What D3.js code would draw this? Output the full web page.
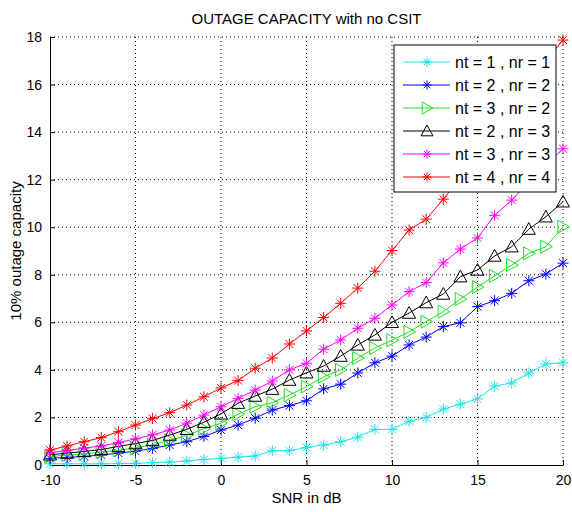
<!DOCTYPE html>
<html>
<head>
<meta charset="utf-8">
<script src="https://cdn.jsdelivr.net/npm/d3@7"></script>
<style>
  html, body { margin: 0; padding: 0; background: #ffffff; }
  svg text { font-family: "Liberation Sans Narrow", "Arial Narrow", "Liberation Sans", Arial, sans-serif; fill: #000; }
</style>
</head>
<body>
<div id="chart"></div>
<script>
'use strict';

// ─── Data ───────────────────────────────────────────────────────────────────
const snrDb = d3.range(-10, 21); // -10 .. 20 dB, step 1

const cap11 = [0.05, 0.05, 0.05, 0.05, 0.06, 0.07, 0.10, 0.12, 0.17, 0.23, 0.28,
               0.33, 0.38, 0.60, 0.60, 0.74, 0.84, 0.98, 1.17, 1.50, 1.50,
               1.84, 2.00, 2.35, 2.56, 2.78, 3.32, 3.45, 3.87, 4.25, 4.30];
const cap22 = [0.28, 0.32, 0.36, 0.42, 0.50, 0.58, 0.70, 0.84, 0.98, 1.20, 1.47,
               1.68, 1.97, 2.31, 2.50, 2.70, 3.20, 3.40, 3.87, 4.30, 4.58,
               5.05, 5.38, 5.82, 5.98, 6.66, 6.91, 7.22, 7.75, 8.03, 8.49];
const cap32 = [0.35, 0.42, 0.47, 0.55, 0.62, 0.72, 0.85, 1.03, 1.25, 1.52, 1.76,
               2.14, 2.45, 2.62, 2.94, 3.30, 3.71, 4.00, 4.50, 4.92, 5.25,
               5.60, 6.03, 6.45, 6.98, 7.48, 7.95, 8.41, 8.90, 9.18, 10.02];
const cap23 = [0.43, 0.50, 0.57, 0.65, 0.78, 0.90, 1.03, 1.26, 1.50, 1.80, 2.15,
               2.60, 2.90, 3.19, 3.57, 3.88, 4.16, 4.58, 5.05, 5.47, 6.00,
               6.39, 6.83, 7.19, 7.92, 8.20, 8.79, 9.18, 9.92, 10.44, 11.07];
const cap33 = [0.52, 0.60, 0.71, 0.80, 0.94, 1.10, 1.27, 1.47, 1.76, 2.10, 2.45,
               2.80, 3.15, 3.53, 4.00, 4.28, 4.87, 5.26, 5.75, 6.17, 6.73,
               7.29, 7.67, 8.50, 9.08, 9.55, 10.50, 11.14, 11.90, 12.60, 13.30];
const cap44 = [0.63, 0.80, 0.98, 1.15, 1.40, 1.68, 1.95, 2.20, 2.52, 2.87, 3.24,
               3.55, 4.07, 4.50, 5.09, 5.64, 6.20, 6.80, 7.44, 8.15, 9.02,
               9.88, 10.34, 11.18, 12.10, 13.00, 14.00, 15.00, 16.00, 17.00, 17.87];

const seriesLabels = ['nt = 1 , nr = 1', 'nt = 2 , nr = 2', 'nt = 3 , nr = 2',
                      'nt = 2 , nr = 3', 'nt = 3 , nr = 3', 'nt = 4 , nr = 4'];
const seriesColors = ['#1ee3e3', '#0000ff', '#22dd22', '#000000', '#ff00ff', '#ff0000'];
const seriesMarkers = ['star', 'star', 'triRight', 'triUp', 'star', 'star'];
const seriesValues = [cap11, cap22, cap32, cap23, cap33, cap44];

const xTicks = [-10, -5, 0, 5, 10, 15, 20];
const yTicks = [0, 2, 4, 6, 8, 10, 12, 14, 16, 18];

// ─── Layout ─────────────────────────────────────────────────────────────────
const W = 572, H = 512;
const M = { left: 50, right: 9, top: 37, bottom: 47 };
const plotW = W - M.left - M.right;
const plotH = H - M.top - M.bottom;

const svg = d3.select('#chart')
    .append('svg')
    .attr('width', W)
    .attr('height', H);

const g = svg.append('g').attr('transform', 'translate(' + M.left + ',' + M.top + ')');

const x = d3.scaleLinear().domain([-10, 20]).range([0, plotW]);
const y = d3.scaleLinear().domain([0, 18]).range([plotH, 0]);

// ─── Grid (dotted, MATLAB style) ────────────────────────────────────────────
g.append('g')
    .selectAll('line')
    .data(xTicks.slice(1))
    .enter()
    .append('line')
    .attr('x1', function (d) { return x(d); })
    .attr('x2', function (d) { return x(d); })
    .attr('y1', 0)
    .attr('y2', plotH)
    .attr('stroke', '#000')
    .attr('stroke-width', 1)
    .attr('stroke-dasharray', '1,3');

g.append('g')
    .selectAll('line')
    .data(yTicks.slice(1))
    .enter()
    .append('line')
    .attr('x1', 0)
    .attr('x2', plotW)
    .attr('y1', function (d) { return y(d); })
    .attr('y2', function (d) { return y(d); })
    .attr('stroke', '#000')
    .attr('stroke-width', 1)
    .attr('stroke-dasharray', '1,3');

// ─── Axes ───────────────────────────────────────────────────────────────────
// plain hyphen for negatives, like the MATLAB original
const plainFmt = function (d) { return String(d); };

const xAxis = g.append('g')
    .attr('transform', 'translate(0,' + plotH + ')')
    .call(d3.axisBottom(x).tickValues(xTicks).tickFormat(plainFmt)
        .tickSizeInner(-5).tickSizeOuter(0).tickPadding(10));

const yAxis = g.append('g')
    .call(d3.axisLeft(y).tickValues(yTicks).tickFormat(plainFmt)
        .tickSizeInner(-5).tickSizeOuter(0).tickPadding(8));

[xAxis, yAxis].forEach(function (ax) {
    ax.select('.domain').attr('stroke', '#000').attr('stroke-width', 1);
    ax.selectAll('.tick line').attr('stroke', '#000');
    ax.selectAll('.tick text')
        .style('font-family', '"Liberation Sans Narrow", "Arial Narrow", "Liberation Sans", Arial, sans-serif')
        .style('font-size', '14px');
});

// ─── Markers ────────────────────────────────────────────────────────────────
function markerPath(kind, r) {
    if (kind === 'star') {
        const d = r * 0.72;
        return 'M' + (-r) + ',0H' + r + 'M0,' + (-r) + 'V' + r +
               'M' + (-d) + ',' + (-d) + 'L' + d + ',' + d +
               'M' + (-d) + ',' + d + 'L' + d + ',' + (-d);
    }
    if (kind === 'triRight') {
        return 'M' + (-r * 0.8) + ',' + (-r) + 'L' + r + ',0L' + (-r * 0.8) + ',' + r + 'Z';
    }
    // triUp
    return 'M0,' + (-r) + 'L' + r + ',' + (r * 0.8) + 'L' + (-r) + ',' + (r * 0.8) + 'Z';
}

// ─── Series ─────────────────────────────────────────────────────────────────
const line = d3.line()
    .x(function (d) { return x(d[0]); })
    .y(function (d) { return y(d[1]); });

seriesValues.forEach(function (vals, i) {
    const pts = snrDb.map(function (s, k) { return [s, vals[k]]; });
    const col = seriesColors[i];
    const sg = g.append('g').attr('class', 'series');

    sg.append('path')
        .datum(pts)
        .attr('d', line)
        .attr('fill', 'none')
        .attr('stroke', col)
        .attr('stroke-width', 1);

    const r = seriesMarkers[i] === 'star' ? 5.5 : 6.5;
    sg.selectAll('.mk')
        .data(pts)
        .enter()
        .append('path')
        .attr('class', 'mk')
        .attr('transform', function (d) { return 'translate(' + x(d[0]) + ',' + y(d[1]) + ')'; })
        .attr('d', markerPath(seriesMarkers[i], r))
        .attr('fill', 'none')
        .attr('stroke', col)
        .attr('stroke-width', 1);
});

// ─── Legend (opaque, top-right) ─────────────────────────────────────────────
const lgX = 394 - M.left, lgY = 45 - M.top, lgW = 162, lgH = 147;
const rowH = 23;
const lg = g.append('g').attr('transform', 'translate(' + lgX + ',' + lgY + ')');

lg.append('rect')
    .attr('width', lgW)
    .attr('height', lgH)
    .attr('fill', '#fff')
    .attr('stroke', '#000')
    .attr('stroke-width', 1);

seriesLabels.forEach(function (lab, i) {
    const cy = 17 + i * rowH;
    const col = seriesColors[i];
    lg.append('line')
        .attr('x1', 9).attr('x2', 56)
        .attr('y1', cy).attr('y2', cy)
        .attr('stroke', col)
        .attr('stroke-width', 1);
    lg.append('path')
        .attr('transform', 'translate(33,' + cy + ')')
        .attr('d', markerPath(seriesMarkers[i], seriesMarkers[i] === 'star' ? 4.5 : 6))
        .attr('fill', 'none')
        .attr('stroke', col)
        .attr('stroke-width', 1);
    lg.append('text')
        .attr('x', 61)
        .attr('y', cy)
        .attr('dy', '0.36em')
        .style('font-size', '16px')
        .text(lab);
});

// ─── Titles ─────────────────────────────────────────────────────────────────
svg.append('text')
    .attr('x', M.left + plotW / 2)
    .attr('y', 24)
    .attr('text-anchor', 'middle')
    .style('font-size', '15px')
    .text('OUTAGE CAPACITY with no CSIT');

svg.append('text')
    .attr('x', M.left + plotW / 2)
    .attr('y', 503)
    .attr('text-anchor', 'middle')
    .style('font-size', '15px')
    .text('SNR in dB');

svg.append('text')
    .attr('transform', 'translate(21,' + (M.top + plotH / 2) + ') rotate(-90)')
    .attr('text-anchor', 'middle')
    .style('font-size', '15px')
    .text('10% outage capacity');
</script>
</body>
</html>
